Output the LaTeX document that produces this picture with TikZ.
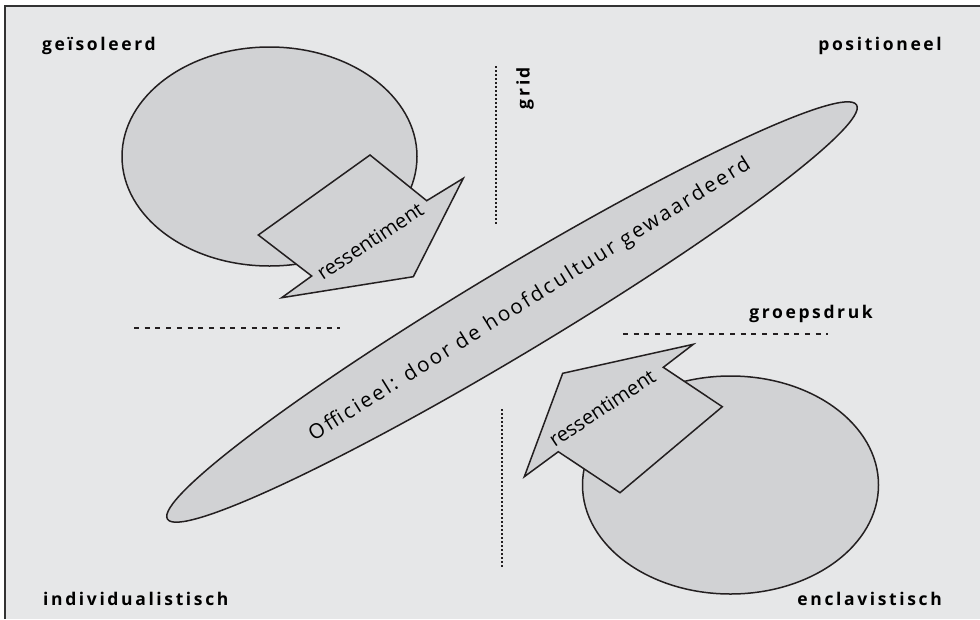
\documentclass[tikz,border=0pt]{standalone}
\usepackage{fontspec}
\setmainfont{Open Sans}
\newfontfamily\lblfont[LetterSpace=15]{Open Sans}
\newfontfamily\bigfont[LetterSpace=12]{Open Sans}
\usetikzlibrary{shapes.geometric}
\definecolor{bg}{HTML}{E6E7E8}
\definecolor{shp}{HTML}{D1D2D4}
\definecolor{ink}{HTML}{231F20}
\definecolor{framec}{HTML}{333333}
\begin{document}
\begin{tikzpicture}[x=1pt,y=-1pt,
  blob/.style={draw=ink, fill=shp, line width=1.5pt, shape=ellipse, inner sep=0pt},
  arrowshape/.style={draw=ink, fill=shp, line width=1.5pt, line join=miter},
  corner/.style={font=\lblfont\bfseries\fontsize{17.5}{20}\selectfont, text=black, inner sep=0pt},
  arrowtext/.style={font=\fontsize{20}{23}\selectfont, text=black, inner sep=0pt},
  hdash/.style={draw=ink, line width=1.8pt, dash pattern=on 5pt off 5.7pt},
  vdash/.style={draw=ink, line width=2pt, dash pattern=on 2pt off 2pt}]
\useasboundingbox (0,0) rectangle (980,619);
\fill[white] (0,0) rectangle (980,619);
\fill[bg] (5,6) rectangle (980,619);
\draw[framec, line width=2pt] (4.5,619) -- (4.5,5.5) -- (980,5.5);

% dashed axes
\draw[vdash] (495.5,66) -- (495.5,224);
\draw[vdash] (501.5,409) -- (501.5,567);
\draw[hdash] (134,328) -- (340,328);
\draw[hdash] (623,334) -- (828,334);

% ellipses
\node[blob, minimum width=295pt, minimum height=219pt] (iso) at (269.5,156.5) {};
\node[blob, minimum width=296pt, minimum height=218pt] (encl) at (730.5,485) {};
\node[blob, rotate=31, minimum width=804pt, minimum height=84pt] (off) at (512,312) {};
\node[rotate=32, font=\bigfont\fontsize{20.5}{24}\selectfont, inner sep=0pt] (offtxt) at (530,300) {Officieel: door de hoofdcultuur gewaardeerd};

% arrows
\draw[arrowshape] (370,155) -- (426.7,200.7) -- (463.3,178.3) -- (413.3,276.7) -- (281.7,297.7) -- (311.7,276) -- (258.3,235) -- cycle;
\node[arrowtext, rotate=33.5] (res1) at (370,241) {ressentiment};
\draw[arrowshape] (722.3,406.7) -- (620,492.7) -- (558.3,451.7) -- (524.3,476.7) -- (562.7,373.3) -- (693.3,344.3) -- (663.3,367.3) -- cycle;
\node[arrowtext, rotate=33.5] (res2) at (602,408) {ressentiment};

% labels
\node[corner, anchor=base west] (geis) at (42,50) {geïsoleerd};
\node[corner, anchor=base east] (posi) at (942,50) {positioneel};
\node[corner, anchor=base west] (indi) at (43,605) {individualistisch};
\node[corner, anchor=base east] (encltxt) at (942,605) {enclavistisch};
\node[corner, anchor=base east] (groep) at (873,318) {groepsdruk};
\node[corner, rotate=90] (grid) at (525,88) {grid};
\end{tikzpicture}
\end{document}
